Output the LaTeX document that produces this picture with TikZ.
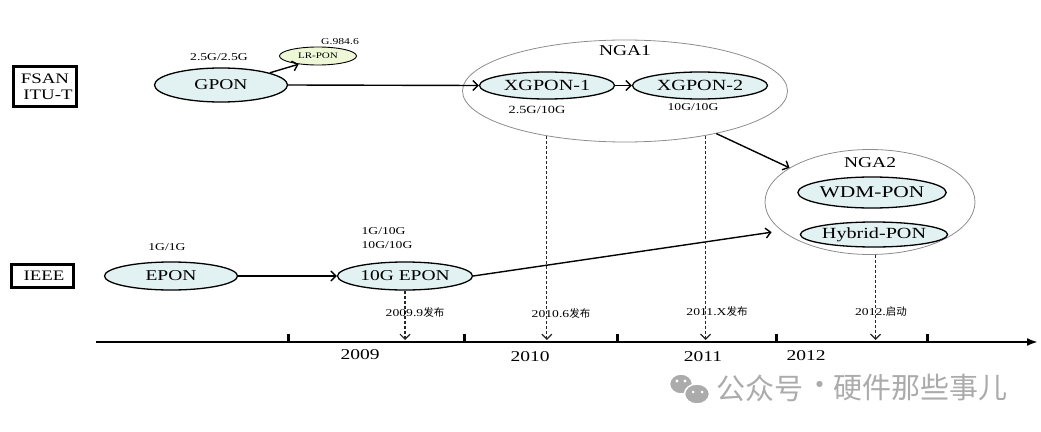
\documentclass[tikz,border=0pt]{standalone}
\usepackage{fontspec}
\setmainfont{Liberation Serif}[FakeStretch=1.3]
\newfontfamily\cjk{Noto Sans CJK SC}
\usetikzlibrary{shapes.geometric,arrows.meta}
\definecolor{ponfill}{HTML}{E2F1F1}
\definecolor{lrfill}{HTML}{EEF7D6}
\definecolor{ngaline}{HTML}{8C8C8C}
\definecolor{wmgray}{HTML}{ABABAB}
\def\axisy{342}

\begin{document}
\begin{tikzpicture}[x=1pt,y=-1pt,
  pon/.style={ellipse,draw,line width=1.3pt,fill=ponfill,inner sep=0pt,
    font=\fontsize{15}{15}\selectfont},
  nga/.style={ellipse,draw=ngaline,line width=0.8pt,inner sep=0pt},
  org/.style={draw,line width=3pt,inner sep=0pt,
    font=\fontsize{14.5}{16}\selectfont},
  rate/.style={font=\fontsize{10.5}{14}\selectfont},
  flow/.style={line width=1.4pt,-{Straight Barb[length=5pt,width=10pt]}},
  drop/.style={line width=1.2pt,dash pattern=on 3pt off 2pt,draw=black!85,
    -{Straight Barb[length=5pt,width=10pt]}},
  note/.style={font=\fontsize{10.5}{12}\selectfont},
  year/.style={font=\fontsize{15}{16}\selectfont}]
\useasboundingbox (0,0) rectangle (1041,431);

% the two standard bodies
\node[org,align=center,minimum width=63pt,minimum height=40pt] (fsan) at (45,86.5)
  {FSAN\\\hspace*{6pt}ITU-T};
\node[org,minimum width=62pt,minimum height=23pt] (ieee) at (42.5,276) {\hspace*{3pt}IEEE};

% the NGA groups, drawn first
\node[nga,minimum width=325pt,minimum height=102pt] (nga1) at (625,91) {};
\node[font=\fontsize{15}{15}\selectfont] (nga1lbl) at (625,51) {NGA1};
\node[nga,minimum width=210pt,minimum height=105pt] (nga2) at (870,202) {};
\node[font=\fontsize{15}{15}\selectfont] (nga2lbl) at (870,163) {NGA2};

% FSAN line
\node[pon,minimum width=133pt,minimum height=34pt] (gpon) at (221,85) {GPON};
\node[rate] (gponrate) at (219,57) {2.5G/2.5G};
\node[pon,fill=lrfill,line width=0.9pt,minimum width=77pt,minimum height=18pt,
  font=\fontsize{8.5}{9}\selectfont] (lrpon) at (318,56) {LR-PON};
\node[font=\fontsize{9}{10}\selectfont] (lrstd) at (340,42) {G.984.6};
\node[pon,minimum width=135pt,minimum height=27pt,
  font=\fontsize{15.5}{16}\selectfont] (xgpon1) at (547,85.5) {XGPON-1};
\node[pon,minimum width=135pt,minimum height=27pt,
  font=\fontsize{15.5}{16}\selectfont] (xgpon2) at (700,85.5) {XGPON-2};
\node[rate,font=\fontsize{11}{12}\selectfont] (x1rate) at (537,110) {2.5G/10G};
\node[rate] (x2rate) at (693,107) {10G/10G};

% NGA2 members
\node[pon,minimum width=135pt,minimum height=31pt,
  font=\fontsize{16.5}{17}\selectfont] (wdm) at (872,192.5) {WDM-PON};
\node[pon,minimum width=135pt,minimum height=25pt,
  font=\fontsize{15.5}{16}\selectfont] (hybrid) at (874,234.5) {Hybrid-PON};

% IEEE line
\node[pon,minimum width=133pt,minimum height=28pt] (epon) at (171,276) {EPON};
\node[rate] (eponrate) at (167,247) {1G/1G};
\node[pon,minimum width=135pt,minimum height=28pt] (epon10) at (405,276) {10G EPON};
\node[rate,align=left] (epon10rate) at (387,238) {1G/10G\\10G/10G};

% evolution arrows
\draw[flow] (gpon.14) -- (lrpon.203);
\draw[flow] (gpon.east) -- (xgpon1.west);
\draw[flow] (xgpon1.east) -- (xgpon2.west);
\draw[flow] (nga1.335) -- (nga2.157);
\draw[flow] (epon.east) -- (epon10.west);
\draw[flow,shorten >=10pt] (epon10.east) -- (nga2.198);

% the time axis
\coordinate (axl) at (96,\axisy);
\coordinate (axr) at (1038,\axisy);
\draw[line width=2.4pt,-{Latex[length=11pt,width=8pt]}] (axl) -- (axr);
\foreach \t in {288,464,617,776,927}
  \draw[line width=3pt] (\t,\axisy) -- (\t,334);
\node[year] (y2009) at (360,355) {2009};
\node[year] (y2010) at (530,357) {2010};
\node[year] (y2011) at (703,357) {2011};
\node[year] (y2012) at (806,356) {2012};

% release dates
\draw[drop,shorten >=2pt] (epon10.south) -- (epon10.south |- axl);
\draw[drop,shorten >=2pt] (nga1.210) -- (nga1.210 |- axl);
\draw[drop,shorten >=2pt] (nga1.331) -- (nga1.331 |- axl);
\draw[drop,shorten >=2pt] (nga2.276) -- (nga2.276 |- axl);
\node[note] (d2009) at (415,313) {2009.9{\cjk 发布}};
\node[note] (d2010) at (561,314) {2010.6{\cjk 发布}};
\node[note] (d2011) at (717,312) {2011.X{\cjk 发布}};
\node[note] (d2012) at (881,312) {2012.{\cjk 启动}};

% watermark
\fill[wmgray,draw=white,line width=1.5pt] (681,384) ellipse [x radius=11.5, y radius=10];
\fill[wmgray,draw=white,line width=1.5pt] (697,394) ellipse [x radius=12.5, y radius=10];
\fill[white] (677,381) circle [radius=1.7] (685,381) circle [radius=1.7]
  (693,392) circle [radius=1.5] (702,392) circle [radius=1.5];
\node[anchor=west,text=wmgray,font=\cjk\fontsize{29}{29}\selectfont,inner sep=0pt]
  (wmark1) at (716,388) {公众号};
\node[text=wmgray,font=\cjk\fontsize{29}{29}\selectfont,inner sep=0pt]
  (wmdot) at (820,388) {·};
\node[anchor=east,text=wmgray,font=\cjk\fontsize{29}{29}\selectfont,inner sep=0pt]
  (wmark2) at (1008,388) {硬件那些事儿};
\end{tikzpicture}
\end{document}
